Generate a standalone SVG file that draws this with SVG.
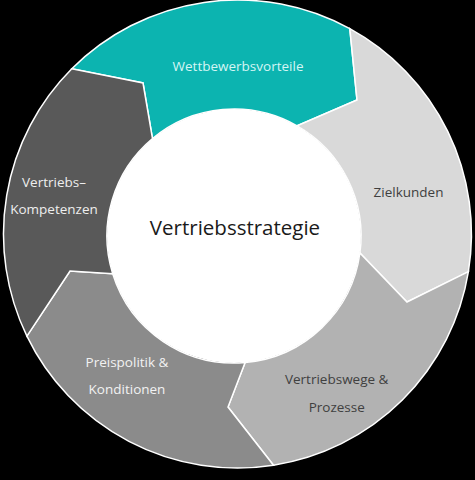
<svg xmlns="http://www.w3.org/2000/svg" width="475" height="480" viewBox="0 0 475 480">
  <style>
    .seg { stroke: #ffffff; stroke-width: 1.5; stroke-linejoin: miter; }
    .lbl { font-family: "Open Sans", "Noto Sans", "DejaVu Sans", sans-serif; font-size: 13.5px; text-anchor: middle; }
    .center { font-family: "Open Sans", "Noto Sans", "DejaVu Sans", sans-serif; font-size: 20.5px; text-anchor: middle; fill: #1a1a1a; }
  </style>
  <rect x="0" y="0" width="475" height="480" fill="#000000"/>
  <g id="connectors"></g>
  <g id="wettbewerbsvorteile">
    <path class="seg" fill="#0cb4b0" d="M71.8,68.8 A234,234 0 0 1 349.8,28.7 L357,100 L297.1,125.8 A127,127 0 0 0 152.5,138.6 L143,83 Z"/>
    <text class="lbl" x="238" y="71" fill="#d4f6f5">Wettbewerbsvorteile</text>
  </g>
  <g id="zielkunden">
    <path class="seg" fill="#d9d9d9" d="M349.8,28.7 A234,234 0 0 1 468.4,271.7 L407,302 L359.9,253 A127,127 0 0 0 297.1,125.8 L357,100 Z"/>
    <text class="lbl" x="408.5" y="197" fill="#3f3f3f">Zielkunden</text>
  </g>
  <g id="vertriebswege">
    <path class="seg" fill="#b2b2b2" d="M468.4,271.7 A234,234 0 0 1 273.5,465.2 L228,407 L245.1,362.5 A127,127 0 0 0 359.9,253 L407,302 Z"/>
    <text class="lbl" x="336.7" y="384" fill="#404040">Vertriebswege &amp;</text>
    <text class="lbl" x="336.7" y="412" fill="#404040">Prozesse</text>
  </g>
  <g id="preispolitik">
    <path class="seg" fill="#8b8b8b" d="M273.5,465.2 A234,234 0 0 1 26.9,336.1 L70,271 L112.7,273.8 A127,127 0 0 0 245.1,362.5 L228,407 Z"/>
    <text class="lbl" x="127" y="367" fill="#f2f2f2">Preispolitik &amp;</text>
    <text class="lbl" x="127" y="394" fill="#f2f2f2">Konditionen</text>
  </g>
  <g id="kompetenzen">
    <path class="seg" fill="#595959" d="M26.9,336.1 A234,234 0 0 1 71.8,68.8 L143,83 L152.5,138.6 A127,127 0 0 0 112.7,273.8 L70,271 Z"/>
    <text class="lbl" x="54" y="187" fill="#eeeeee">Vertriebs–</text>
    <text class="lbl" x="54" y="214" fill="#eeeeee">Kompetenzen</text>
  </g>
  <g id="vertriebsstrategie">
    <circle cx="234" cy="236" r="127" fill="#ffffff"/>
    <text class="center" x="235" y="235">Vertriebsstrategie</text>
  </g>
</svg>
